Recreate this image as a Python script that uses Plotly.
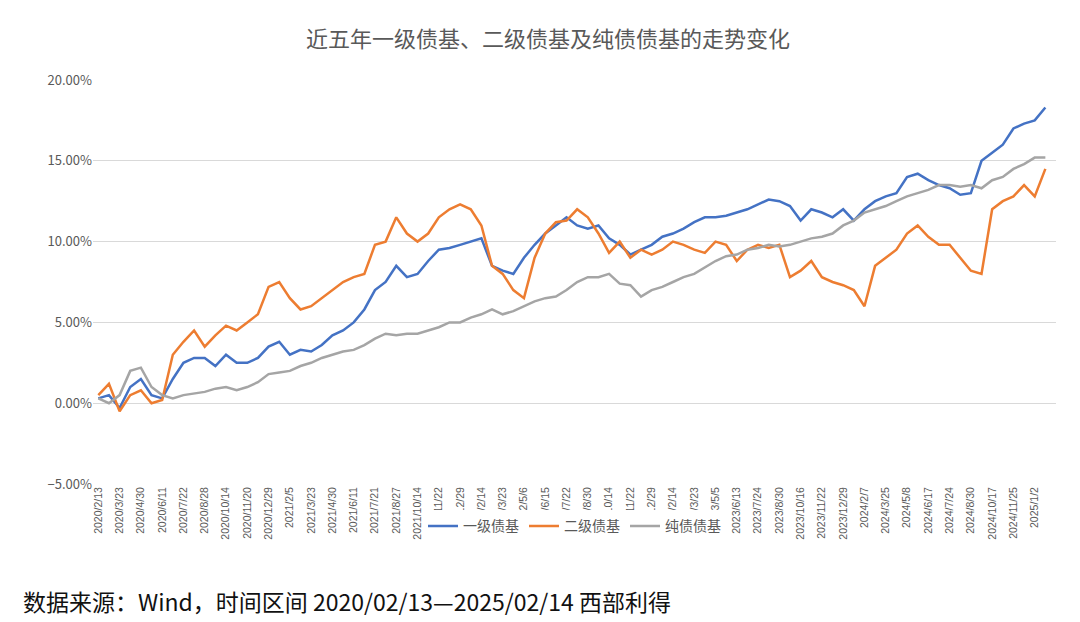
import plotly.graph_objects as go

tick_labels = ["2020/2/13","2020/3/23","2020/4/30","2020/6/11","2020/7/22","2020/8/28","2020/10/14","2020/11/20","2020/12/29",
"2021/2/5","2021/3/23","2021/4/30","2021/6/11","2021/7/21","2021/8/27","2021/10/14","2021/11/22","2021/12/29",
"2022/2/14","2022/3/23","2022/5/6","2022/6/15","2022/7/22","2022/8/30","2022/10/14","2022/11/22","2022/12/29",
"2023/2/14","2023/3/23","2023/5/5","2023/6/13","2023/7/24","2023/8/30","2023/10/16","2023/11/22","2023/12/29",
"2024/2/7","2024/3/25","2024/5/8","2024/6/17","2024/7/24","2024/8/30","2024/10/17","2024/11/25","2025/1/2"]

level1 = [0.3,0.5,-0.3,1.0,1.5,0.5,0.3,1.5,2.5,2.8,2.8,2.3,3.0,2.5,2.5,2.8,3.5,3.8,
3.0,3.3,3.2,3.6,4.2,4.5,5.0,5.8,7.0,7.5,8.5,7.8,8.0,8.8,9.5,9.6,9.8,10.0,
10.2,8.5,8.2,8.0,9.0,9.8,10.5,11.0,11.5,11.0,10.8,11.0,10.2,9.8,9.2,9.5,9.8,10.3,
10.5,10.8,11.2,11.5,11.5,11.6,11.8,12.0,12.3,12.6,12.5,12.2,11.3,12.0,11.8,11.5,12.0,11.3,
12.0,12.5,12.8,13.0,14.0,14.2,13.8,13.5,13.3,12.9,13.0,15.0,15.5,16.0,17.0,17.3,17.5,18.3]

level2 = [0.5,1.2,-0.5,0.5,0.8,0.0,0.2,3.0,3.8,4.5,3.5,4.2,4.8,4.5,5.0,5.5,7.2,7.5,
6.5,5.8,6.0,6.5,7.0,7.5,7.8,8.0,9.8,10.0,11.5,10.5,10.0,10.5,11.5,12.0,12.3,12.0,
11.0,8.5,8.0,7.0,6.5,9.0,10.5,11.2,11.3,12.0,11.5,10.5,9.3,10.0,9.0,9.5,9.2,9.5,
10.0,9.8,9.5,9.3,10.0,9.8,8.8,9.5,9.8,9.6,9.8,7.8,8.2,8.8,7.8,7.5,7.3,7.0,
6.0,8.5,9.0,9.5,10.5,11.0,10.3,9.8,9.8,9.0,8.2,8.0,12.0,12.5,12.8,13.5,12.8,14.5]

pure = [0.3,0.0,0.5,2.0,2.2,1.0,0.5,0.3,0.5,0.6,0.7,0.9,1.0,0.8,1.0,1.3,1.8,1.9,
2.0,2.3,2.5,2.8,3.0,3.2,3.3,3.6,4.0,4.3,4.2,4.3,4.3,4.5,4.7,5.0,5.0,5.3,
5.5,5.8,5.5,5.7,6.0,6.3,6.5,6.6,7.0,7.5,7.8,7.8,8.0,7.4,7.3,6.6,7.0,7.2,
7.5,7.8,8.0,8.4,8.8,9.1,9.2,9.5,9.6,9.8,9.7,9.8,10.0,10.2,10.3,10.5,11.0,11.3,
11.8,12.0,12.2,12.5,12.8,13.0,13.2,13.5,13.5,13.4,13.5,13.3,13.8,14.0,14.5,14.8,15.2,15.2]

x = list(range(len(level1)))
font = "Noto Sans CJK SC"
fig = go.Figure()
for name, vals, col in [("一级债基", level1, "#4472C4"), ("二级债基", level2, "#ED7D31"), ("纯债债基", pure, "#A5A5A5")]:
    fig.add_trace(go.Scatter(x=x, y=[v/100 for v in vals], name=name, mode="lines",
                             line=dict(color=col, width=2.5)))

fig.update_layout(
    width=1080, height=622, paper_bgcolor="white", plot_bgcolor="white",
    margin=dict(l=85, r=32, t=72, b=146),
    font=dict(family=font, color="#595959"),
    title=dict(text="近五年一级债基、二级债基及纯债债基的走势变化", x=0.5, y=0.949, xanchor="center", yanchor="middle",
               font=dict(size=22, color="#595959")),
    xaxis=dict(tickmode="array", tickvals=list(range(0, 89, 2)), ticktext=tick_labels, tickangle=-90,
               tickfont=dict(size=10.5, color="#595959", family="Liberation Sans"), showgrid=False, range=[-0.5, 90],
               showline=False, zeroline=False),
    yaxis=dict(range=[-0.05, 0.20], dtick=0.05, tickformat=".2%", gridcolor="#D9D9D9",
               tickfont=dict(size=13, color="#595959"), zeroline=False),
    legend=dict(orientation="h", x=0.5, xanchor="center", y=-0.105, yanchor="middle",
                font=dict(size=14, color="#595959")),
    showlegend=True,
)
fig.add_annotation(text="数据来源：Wind，时间区间 2020/02/13—2025/02/14 西部利得", xref="paper", yref="paper",
                   x=-0.075, y=-0.29, xanchor="left", yanchor="middle", showarrow=False,
                   font=dict(size=23, color="#111111", family=font))
fig.write_html("out.html")
